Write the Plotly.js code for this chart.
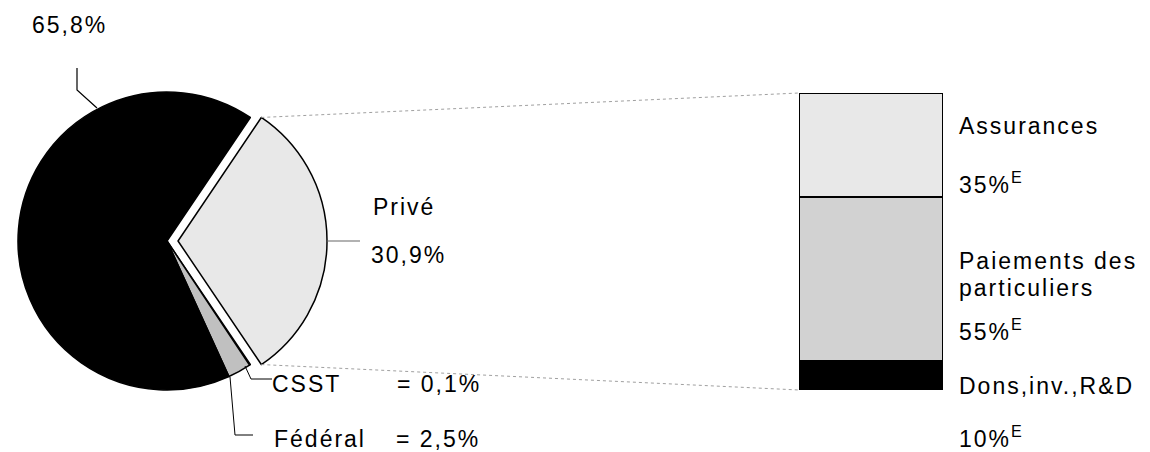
<!DOCTYPE html>
<html><head><meta charset="utf-8">
<script src="https://cdn.plot.ly/plotly-3.0.1.min.js"></script>
<style>
html,body{margin:0;padding:0;background:#fff;}
.annotation-text{letter-spacing:2px;}
</style>
</head><body>
<div id="chart" style="width:1150px;height:452px;"></div>
<script>
// ---- data ----
const pieLabels = ['Privé', 'CSST', 'Fédéral', 'Provincial'];
const pieValues = [30.9, 0.1, 2.5, 65.8];
const pieColors = ['#e8e8e8', '#ffffff', '#c0c0c0', '#000000'];

const barLabels = ['Dons,inv.,R&D', 'Paiements des particuliers', 'Assurances'];
const barValues = [10, 55, 35];
const barColors = ['#000000', '#d2d2d2', '#e8e8e8'];
const barNote = 'E';

// ---- layout geometry ----
const W = 1150, H = 452;
const pieCx = 167, pieCy = 241, pieR = 149, pullFrac = 0.074;
const half = pieR * (1 + pullFrac);
const pieDomX = [(pieCx - half) / W, (pieCx + half) / W];
const pieDomY = [(H - pieCy - half) / H, (H - pieCy + half) / H];
const barDomX = [799 / W, 943 / W];
const barDomY = [(H - 390) / H, (H - 93) / H];

const total = pieValues.reduce((a, b) => a + b, 0);
const rotation = 90 - 180 * pieValues[0] / total; // centre "Privé" on 3 o'clock
const fmt = v => v.toFixed(1).replace('.', ',') + '%';
const px = x => x / W, py = y => 1 - y / H;

// Privé slice corner points (computed from data)
const rad = d => d * Math.PI / 180;
const a0 = rotation, a1 = rotation + 360 * pieValues[0] / total, am = (a0 + a1) / 2;
const pcx = pieCx + pullFrac * pieR * Math.sin(rad(am));
const pcy = pieCy - pullFrac * pieR * Math.cos(rad(am));
const corner = a => [pcx + pieR * Math.sin(rad(a)), pcy - pieR * Math.cos(rad(a))];
const cTop = corner(a0), cBot = corner(a1), cMid = corner(am);

const traces = [{
  type: 'pie', values: pieValues, labels: pieLabels, sort: false,
  direction: 'clockwise', rotation: rotation,
  pull: pieValues.map((v, i) => i === 0 ? pullFrac : 0),
  marker: {colors: pieColors, line: {color: '#000000', width: 1.5}},
  textinfo: 'none', hoverinfo: 'none', showlegend: false,
  domain: {x: pieDomX, y: pieDomY}
}];
barLabels.forEach((name, i) => traces.push({
  type: 'bar', name: name, x: [0], y: [barValues[i]], width: 1,
  marker: {color: barColors[i], line: {color: '#000000', width: 1.5}},
  hoverinfo: 'none', showlegend: false, xaxis: 'x', yaxis: 'y'
}));

const font = {family: 'Liberation Sans, Arial, sans-serif', size: 23, color: '#000000'};
const ann = (text, x, y) => ({text: text, x: px(x), y: py(y), xref: 'paper', yref: 'paper',
  xanchor: 'left', yanchor: 'middle', showarrow: false, font: font, borderpad: 0});
const sup = v => v + '%<sup>' + barNote + '</sup>';
const words = barLabels[1].split(' ');

const annotations = [
  ann(fmt(pieValues[3]), 31, 25),
  ann(pieLabels[0], 372, 207),
  ann(fmt(pieValues[0]), 370, 255),
  ann(pieLabels[1], 271, 384),
  ann('= ' + fmt(pieValues[1]), 396, 384),
  ann(pieLabels[2], 273, 439),
  ann('= ' + fmt(pieValues[2]), 395, 439),
  ann(barLabels[2], 958, 126),
  ann(sup(barValues[2]), 958, 183),
  ann(words.slice(0, 2).join(' '), 958, 261),
  ann(words[2], 958, 288),
  ann(sup(barValues[1]), 958, 330),
  ann(barLabels[0], 958, 386),
  ann(sup(barValues[0]), 958, 437)
];

const seg = (pts, color, width, dash) => ({
  type: 'path', xref: 'paper', yref: 'paper',
  path: 'M' + pts.map(p => px(p[0]) + ',' + py(p[1])).join('L'),
  line: {color: color, width: width, dash: dash || 'solid'}
});
const shapes = [
  // connectors from the exploded slice to the stacked bar
  {type: 'line', xref: 'paper', yref: 'paper', x0: px(cTop[0]), y0: py(cTop[1]), x1: barDomX[0], y1: barDomY[1],
   line: {color: '#a0a0a0', width: 1, dash: 'dot'}},
  {type: 'line', xref: 'paper', yref: 'paper', x0: px(cBot[0]), y0: py(cBot[1]), x1: barDomX[0], y1: barDomY[0],
   line: {color: '#a0a0a0', width: 1, dash: 'dot'}},
  // leader lines
  seg([[cMid[0], cMid[1]], [360, cMid[1]]], '#666666', 1.2),
  seg([[77, 68], [77, 90], [97, 108]], '#000000', 1.2),
  seg([[245, 366], [251, 379], [272, 379]], '#000000', 1),
  seg([[230, 377], [235, 435], [253, 435]], '#000000', 1)
];

const layout = {
  width: W, height: H, margin: {l: 0, r: 0, t: 0, b: 0},
  paper_bgcolor: '#ffffff', plot_bgcolor: 'rgba(0,0,0,0)',
  barmode: 'stack', bargap: 0,
  xaxis: {domain: barDomX, range: [-0.5, 0.5], visible: false, fixedrange: true},
  yaxis: {domain: barDomY, range: [0, 100], visible: false, fixedrange: true},
  annotations: annotations, shapes: shapes, showlegend: false
};
Plotly.newPlot('chart', traces, layout, {displayModeBar: false, staticPlot: true});
</script>
</body></html>
